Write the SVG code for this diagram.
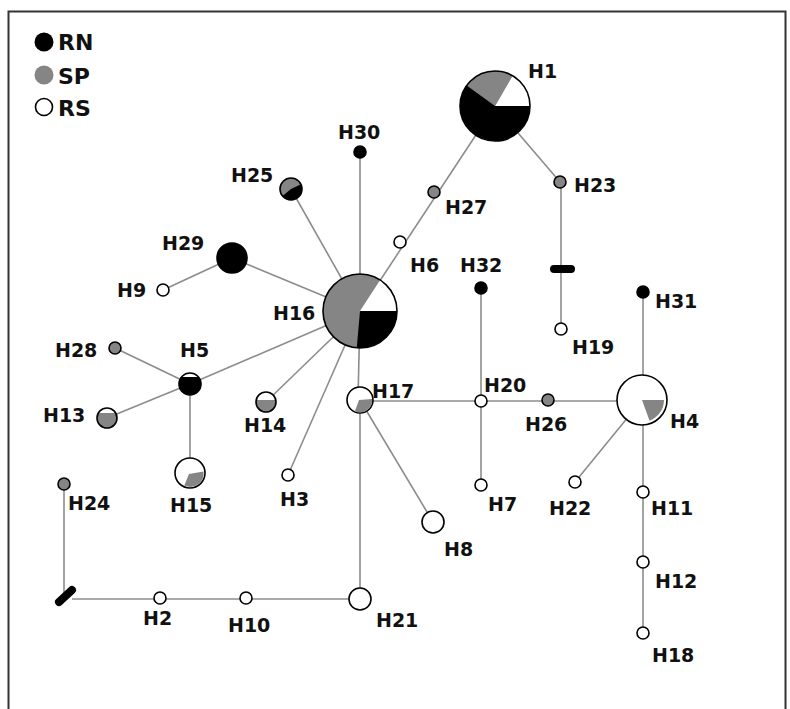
<svg xmlns="http://www.w3.org/2000/svg" width="790" height="709" viewBox="0 0 790 709">
<style>
.lbl{font-family:"DejaVu Sans","Liberation Sans",sans-serif;font-weight:bold;font-size:19px;fill:#111}
.leg{font-family:"DejaVu Sans","Liberation Sans",sans-serif;font-weight:bold;font-size:22px;fill:#111}
.e{stroke:#8c8c8c;stroke-width:1.6;fill:none}
.o{fill:none;stroke:#000;stroke-width:1.6}
.w{fill:#fff;stroke:#000;stroke-width:1.6}
.b{fill:#000;stroke:#000;stroke-width:1.6}
.g{fill:#858585;stroke:#000;stroke-width:1.6}
.fw{fill:#fff}
.fb{fill:#000}
.fg{fill:#858585}
</style>
<rect x="0" y="0" width="790" height="709" fill="#fff"/>
<rect x="8.5" y="11.5" width="777" height="720" fill="#fff" stroke="#333" stroke-width="2"/>
<g id="legend">
<circle cx="44" cy="42" r="9.5" fill="#000"/>
<text class="leg" x="58" y="50">RN</text>
<circle cx="44" cy="75" r="9.5" fill="#858585"/>
<text class="leg" x="58" y="84">SP</text>
<circle cx="44" cy="107" r="8.5" class="w"/>
<text class="leg" x="58" y="116">RS</text>
</g>
<g id="connectors">
<line class="e" x1="495" y1="106" x2="360" y2="311"/>
<line class="e" x1="495" y1="106" x2="560" y2="182"/>
<line class="e" x1="561" y1="182" x2="561" y2="329"/>
<line class="e" x1="360" y1="152" x2="360" y2="311"/>
<line class="e" x1="291" y1="189" x2="360" y2="311"/>
<line class="e" x1="232" y1="258" x2="360" y2="311"/>
<line class="e" x1="232" y1="258" x2="163" y2="290"/>
<line class="e" x1="360" y1="311" x2="190" y2="384"/>
<line class="e" x1="190" y1="384" x2="115" y2="348"/>
<line class="e" x1="190" y1="384" x2="107" y2="418"/>
<line class="e" x1="190" y1="384" x2="190" y2="473"/>
<line class="e" x1="360" y1="311" x2="266" y2="402"/>
<line class="e" x1="360" y1="311" x2="288" y2="475"/>
<line class="e" x1="360" y1="311" x2="358" y2="400"/>
<line class="e" x1="360" y1="400" x2="360" y2="599"/>
<line class="e" x1="360" y1="400" x2="433" y2="522"/>
<line class="e" x1="360" y1="401" x2="642" y2="401"/>
<line class="e" x1="481" y1="288" x2="481" y2="485"/>
<line class="e" x1="643" y1="292" x2="643" y2="633"/>
<line class="e" x1="642" y1="400" x2="575" y2="482"/>
<polyline class="e" points="64,484 64,593"/>
<polyline class="e" points="72,599 360,599"/>
<line x1="59" y1="602" x2="72" y2="590" stroke="#000" stroke-width="8" stroke-linecap="round"/>
<rect x="550" y="265" width="25" height="8" rx="4" fill="#000"/>
</g>
<g id="H1">
<circle cx="495" cy="106" r="35" class="fb"/>
<path class="fg" d="M495,106 L466.68,85.43 A35,35 0 0 1 512.5,75.69 Z"/>
<path class="fw" d="M495,106 L512.5,75.69 A35,35 0 0 1 530,106 Z"/>
<circle cx="495" cy="106" r="35" class="o"/>
<text class="lbl" x="528" y="78">H1</text>
</g>
<g id="H16">
<circle cx="360" cy="311" r="37" class="fg"/>
<path class="fb" d="M360,311 L397,311 A37,37 0 0 1 356.77,347.86 Z"/>
<path class="fw" d="M360,311 L380.15,279.97 A37,37 0 0 1 397,311 Z"/>
<circle cx="360" cy="311" r="37" class="o"/>
<text class="lbl" x="273" y="320">H16</text>
</g>
<g id="H4">
<circle cx="642" cy="400" r="25" class="w"/>
<path class="fg" d="M642,400 L664,400 A22,22 0 0 1 649.52,420.67 Z"/>
<text class="lbl" x="670" y="428">H4</text>
</g>
<g id="H25">
<circle cx="291" cy="189" r="11" class="fg"/>
<path class="fb" d="M291,189 L300.97,184.35 A11,11 0 0 1 282.57,196.07 Z"/>
<circle cx="291" cy="189" r="11" class="o"/>
<text class="lbl" x="231" y="182">H25</text>
</g>
<g id="H5">
<circle cx="190" cy="384" r="11" class="fb"/>
<path class="fw" d="M181.51,377 A11,11 0 0 1 198.49,377 Z"/>
<circle cx="190" cy="384" r="11" class="o"/>
<text class="lbl" x="180" y="357">H5</text>
</g>
<g id="H13">
<circle cx="107" cy="418" r="10" class="fg"/>
<path class="fw" d="M98.34,413 A10,10 0 0 1 115.66,413 Z"/>
<circle cx="107" cy="418" r="10" class="o"/>
<text class="lbl" x="43" y="422">H13</text>
</g>
<g id="H14">
<circle cx="266" cy="402" r="10" class="fg"/>
<path class="fw" d="M256.2,400 A10,10 0 0 1 275.8,400 Z"/>
<circle cx="266" cy="402" r="10" class="o"/>
<text class="lbl" x="244" y="432">H14</text>
</g>
<g id="H15">
<circle cx="190" cy="473" r="15" class="w"/>
<path class="fg" d="M189,474 L203.5,471.5 A13.5,13.5 0 0 1 184.3,485.6 Z"/>
<text class="lbl" x="170" y="512">H15</text>
</g>
<g id="H17">
<circle cx="360" cy="400" r="13" class="w"/>
<path class="fg" d="M359,400 L372,399 A12,12 0 0 1 354.9,411.3 Z"/>
<text class="lbl" x="372" y="398">H17</text>
</g>
<g id="H29"><circle cx="232" cy="258" r="15" class="b"/><text class="lbl" x="162" y="250">H29</text></g>
<g id="H30"><circle cx="360" cy="152" r="6" class="b"/><text class="lbl" x="338" y="139">H30</text></g>
<g id="H27"><circle cx="434" cy="192" r="6" class="g"/><text class="lbl" x="445" y="214">H27</text></g>
<g id="H23"><circle cx="560" cy="182" r="6" class="g"/><text class="lbl" x="574" y="192">H23</text></g>
<g id="H6"><circle cx="400" cy="242" r="6" class="w"/><text class="lbl" x="410" y="272">H6</text></g>
<g id="H9"><circle cx="163" cy="290" r="6" class="w"/><text class="lbl" x="117" y="297">H9</text></g>
<g id="H32"><circle cx="481" cy="288" r="6" class="b"/><text class="lbl" x="460" y="272">H32</text></g>
<g id="H19"><circle cx="561" cy="329" r="6" class="w"/><text class="lbl" x="572" y="354">H19</text></g>
<g id="H31"><circle cx="643" cy="292" r="6" class="b"/><text class="lbl" x="655" y="308">H31</text></g>
<g id="H28"><circle cx="115" cy="348" r="6" class="g"/><text class="lbl" x="55" y="357">H28</text></g>
<g id="H3"><circle cx="288" cy="475" r="6" class="w"/><text class="lbl" x="280" y="506">H3</text></g>
<g id="H20"><circle cx="481" cy="401" r="6" class="w"/><text class="lbl" x="484" y="392">H20</text></g>
<g id="H26"><circle cx="548" cy="400" r="6" class="g"/><text class="lbl" x="525" y="431">H26</text></g>
<g id="H7"><circle cx="481" cy="485" r="6" class="w"/><text class="lbl" x="488" y="511">H7</text></g>
<g id="H22"><circle cx="575" cy="482" r="6" class="w"/><text class="lbl" x="549" y="515">H22</text></g>
<g id="H11"><circle cx="643" cy="492" r="6" class="w"/><text class="lbl" x="651" y="515">H11</text></g>
<g id="H8"><circle cx="433" cy="522" r="11" class="w"/><text class="lbl" x="444" y="556">H8</text></g>
<g id="H12"><circle cx="643" cy="562" r="6" class="w"/><text class="lbl" x="655" y="588">H12</text></g>
<g id="H18"><circle cx="643" cy="633" r="6" class="w"/><text class="lbl" x="652" y="662">H18</text></g>
<g id="H2"><circle cx="160" cy="598" r="6" class="w"/><text class="lbl" x="143" y="625">H2</text></g>
<g id="H10"><circle cx="246" cy="598" r="6" class="w"/><text class="lbl" x="228" y="632">H10</text></g>
<g id="H21"><circle cx="360" cy="599" r="11" class="w"/><text class="lbl" x="376" y="627">H21</text></g>
<g id="H24"><circle cx="64" cy="484" r="6" class="g"/><text class="lbl" x="68" y="510">H24</text></g>
</svg>
